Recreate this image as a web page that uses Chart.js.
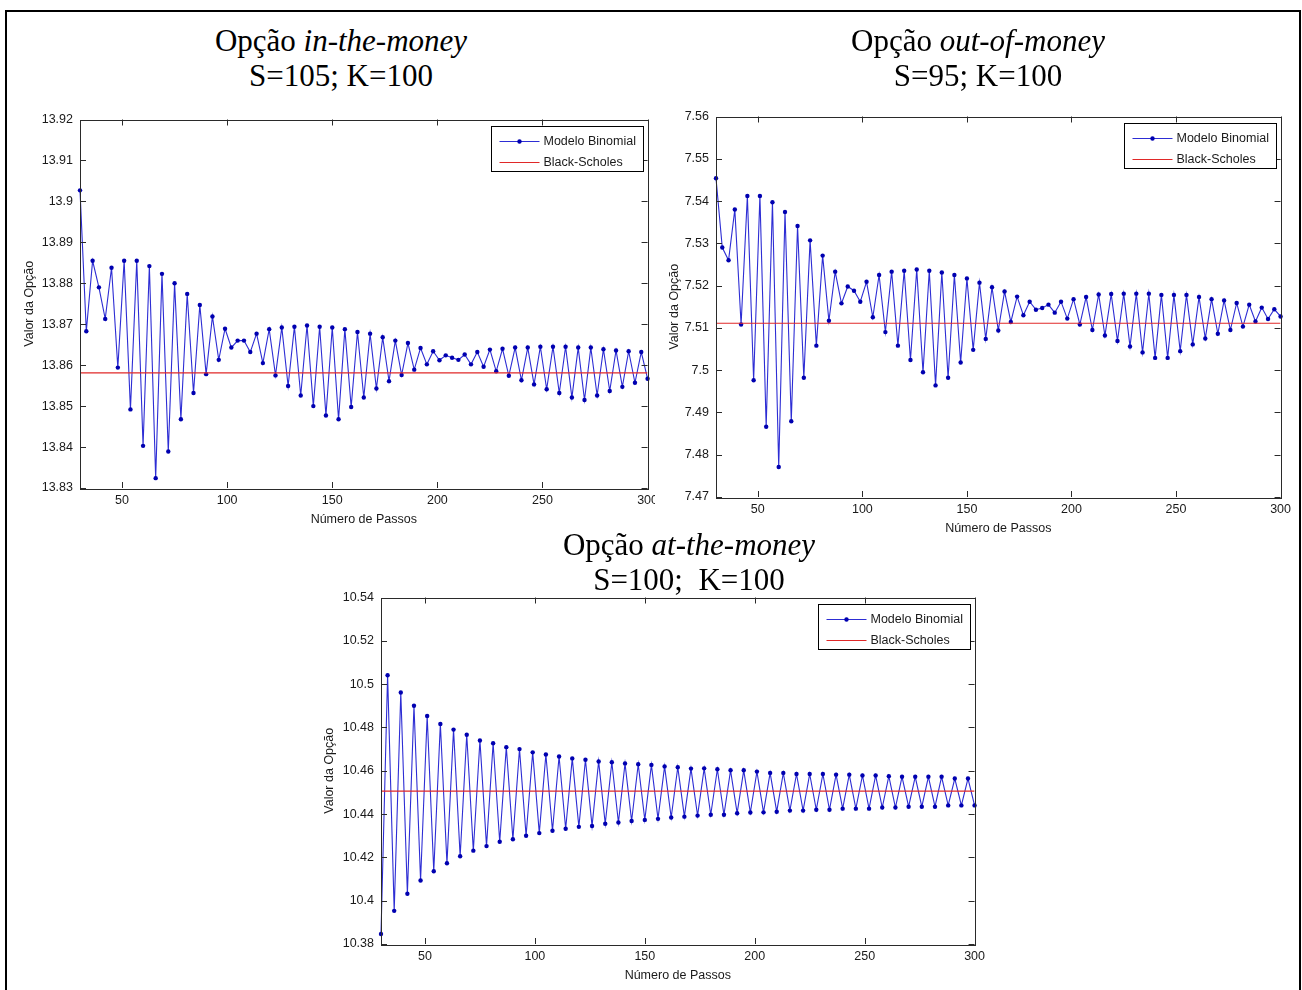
<!DOCTYPE html>
<html>
<head>
<meta charset="utf-8">
<script src="https://cdn.jsdelivr.net/npm/chart.js@4.4.1/dist/chart.umd.min.js"></script>
<style>
    html, body { margin: 0; padding: 0; background: #fff; }
    body { width: 1302px; height: 990px; position: relative; overflow: hidden; }
    .frame { position: absolute; left: 5px; top: 10px; width: 1296px; height: 990px; border: 2px solid #000; border-bottom: none; box-sizing: border-box; }
    .title { position: absolute; z-index: 3; width: 600px; text-align: center; font-family: 'Liberation Serif', 'Times New Roman', serif; font-size: 31px; line-height: 35px; color: #000; white-space: pre; }
    canvas { position: absolute; }
    #chartOtm { background: #fff; }
</style>
</head>
<body>
<div class="frame"></div>

<div class="title" style="left:41px; top:23px;">Opção <i>in-the-money</i><br>S=105; K=100</div>
<div class="title" style="left:678px; top:23px;">Opção <i>out-of-money</i><br>S=95; K=100</div>
<div class="title" style="left:389px; top:527px;">Opção <i>at-the-money</i><br>S=100;  K=100</div>

<canvas id="chartItm" width="645" height="425" style="left:18px; top:105px;"></canvas>
<canvas id="chartOtm" width="641" height="437" style="left:655px; top:102px;"></canvas>
<canvas id="chartAtm" width="672" height="403" style="left:318px; top:583px;"></canvas>

<script>
// number of steps of the binomial tree
const steps = [
    30, 33, 36, 39, 42, 45, 48, 51, 54, 57, 60, 63, 66, 69, 72, 75, 78, 81, 84, 87,
    90, 93, 96, 99, 102, 105, 108, 111, 114, 117, 120, 123, 126, 129, 132, 135, 138, 141, 144, 147,
    150, 153, 156, 159, 162, 165, 168, 171, 174, 177, 180, 183, 186, 189, 192, 195, 198, 201, 204, 207,
    210, 213, 216, 219, 222, 225, 228, 231, 234, 237, 240, 243, 246, 249, 252, 255, 258, 261, 264, 267,
    270, 273, 276, 279, 282, 285, 288, 291, 294, 297, 300,
];

// S=105; K=100
const itmBinomial = [
    13.9027, 13.8683, 13.8855, 13.8790, 13.8713, 13.8838, 13.8594, 13.8855, 13.8492, 13.8855,
    13.8403, 13.8842, 13.8324, 13.8823, 13.8389, 13.8800, 13.8468, 13.8774, 13.8532, 13.8747,
    13.8578, 13.8719, 13.8613, 13.8689, 13.8643, 13.8660, 13.8660, 13.8632, 13.8677, 13.8605,
    13.8688, 13.8575, 13.8692, 13.8549, 13.8694, 13.8526, 13.8697, 13.8500, 13.8694, 13.8477,
    13.8692, 13.8468, 13.8688, 13.8498, 13.8681, 13.8521, 13.8677, 13.8543, 13.8668, 13.8561,
    13.8660, 13.8576, 13.8654, 13.8589, 13.8642, 13.8602, 13.8634, 13.8612, 13.8624, 13.8618,
    13.8613, 13.8626, 13.8602, 13.8632, 13.8596, 13.8638, 13.8585, 13.8640, 13.8574, 13.8643,
    13.8563, 13.8643, 13.8553, 13.8645, 13.8541, 13.8645, 13.8532, 13.8645, 13.8521, 13.8643,
    13.8515, 13.8643, 13.8526, 13.8639, 13.8537, 13.8636, 13.8547, 13.8634, 13.8557, 13.8632,
    13.8567,
];
const itmBlackScholes = 13.8581;

// S=95; K=100
const otmBinomial = [
    7.5454, 7.5290, 7.5260, 7.5380, 7.5108, 7.5412, 7.4976, 7.5412, 7.4866, 7.5397,
    7.4771, 7.5374, 7.4879, 7.5341, 7.4982, 7.5307, 7.5058, 7.5271, 7.5117, 7.5233,
    7.5158, 7.5198, 7.5188, 7.5162, 7.5209, 7.5125, 7.5225, 7.5090, 7.5233, 7.5058,
    7.5235, 7.5024, 7.5238, 7.4995, 7.5235, 7.4964, 7.5231, 7.4982, 7.5225, 7.5018,
    7.5217, 7.5048, 7.5207, 7.5074, 7.5196, 7.5094, 7.5186, 7.5114, 7.5174, 7.5130,
    7.5162, 7.5143, 7.5147, 7.5155, 7.5136, 7.5162, 7.5122, 7.5168, 7.5108, 7.5173,
    7.5095, 7.5179, 7.5082, 7.5180, 7.5069, 7.5181, 7.5056, 7.5181, 7.5042, 7.5181,
    7.5029, 7.5178, 7.5029, 7.5178, 7.5045, 7.5178, 7.5061, 7.5173, 7.5075, 7.5168,
    7.5086, 7.5165, 7.5095, 7.5159, 7.5103, 7.5155, 7.5115, 7.5148, 7.5121, 7.5144,
    7.5127,
];
const otmBlackScholes = 7.5111;

// S=100; K=100
const atmBinomial = [
    10.3846, 10.5041, 10.3953, 10.4961, 10.4032, 10.4900, 10.4093, 10.4853, 10.4136, 10.4816,
    10.4173, 10.4790, 10.4205, 10.4766, 10.4231, 10.4740, 10.4252, 10.4727, 10.4272, 10.4709,
    10.4284, 10.4700, 10.4300, 10.4685, 10.4312, 10.4675, 10.4323, 10.4666, 10.4332, 10.4657,
    10.4341, 10.4651, 10.4345, 10.4643, 10.4355, 10.4639, 10.4361, 10.4634, 10.4368, 10.4630,
    10.4373, 10.4627, 10.4378, 10.4620, 10.4384, 10.4616, 10.4388, 10.4610, 10.4393, 10.4611,
    10.4397, 10.4607, 10.4397, 10.4602, 10.4404, 10.4602, 10.4407, 10.4596, 10.4408, 10.4590,
    10.4411, 10.4590, 10.4416, 10.4585, 10.4416, 10.4585, 10.4420, 10.4585, 10.4420, 10.4582,
    10.4425, 10.4582, 10.4425, 10.4578, 10.4425, 10.4578, 10.4430, 10.4575, 10.4430, 10.4572,
    10.4434, 10.4572, 10.4434, 10.4572, 10.4434, 10.4572, 10.4440, 10.4564, 10.4440, 10.4564,
    10.4440,
];
const atmBlackScholes = 10.4506;

// tick labels
const xTicks = [50, 100, 150, 200, 250, 300];
const itmYTicks = [13.83, 13.84, 13.85, 13.86, 13.87, 13.88, 13.89, 13.90, 13.91, 13.92];
const otmYTicks = [7.47, 7.48, 7.49, 7.50, 7.51, 7.52, 7.53, 7.54, 7.55, 7.56];
const atmYTicks = [10.38, 10.40, 10.42, 10.44, 10.46, 10.48, 10.50, 10.52, 10.54];

const LINE_BLUE = '#2d2dd4';
const MARKER_BLUE = '#0000b0';
const LINE_RED = '#e02828';
const AXIS_COLOR = '#2a2a2a';
const TEXT_COLOR = '#1a1a1a';
const SANS = "'Liberation Sans', Arial, sans-serif";
const FONT_SIZE = 12.5;

// MATLAB-like box: full frame, inward ticks, boxed legend in the top-right corner
const matlabAxes = {
    id: 'matlabAxes',
    afterDatasetsDraw(chart) {
        const { ctx, chartArea: a, scales: { x, y } } = chart;
        const tick = 6;
        ctx.save();
        ctx.strokeStyle = AXIS_COLOR;
        ctx.lineWidth = 1;
        ctx.strokeRect(Math.round(a.left) + 0.5, Math.round(a.top) + 0.5, Math.round(a.width), Math.round(a.height));
        ctx.beginPath();
        x.ticks.forEach((t) => {
            const px = Math.round(x.getPixelForValue(t.value)) + 0.5;
            ctx.moveTo(px, a.bottom); ctx.lineTo(px, a.bottom - tick);
            ctx.moveTo(px, a.top); ctx.lineTo(px, a.top + tick);
        });
        y.ticks.forEach((t) => {
            const py = Math.round(y.getPixelForValue(t.value)) + 0.5;
            ctx.moveTo(a.left, py); ctx.lineTo(a.left + tick, py);
            ctx.moveTo(a.right, py); ctx.lineTo(a.right - tick, py);
        });
        ctx.stroke();
        drawLegend(chart);
        ctx.restore();
    },
};

function drawLegend(chart) {
    const { ctx, chartArea: a } = chart;
    const sets = chart.data.datasets;
    ctx.font = `${FONT_SIZE}px ${SANS}`;
    const textW = Math.max(...sets.map((d) => ctx.measureText(d.label).width));
    const w = Math.round(52 + textW + 8);
    const h = 45;
    const x0 = Math.round(a.right - 5 - w) + 0.5;
    const y0 = Math.round(a.top + 6) + 0.5;
    ctx.fillStyle = '#fff';
    ctx.fillRect(x0, y0, w, h);
    ctx.strokeStyle = '#000';
    ctx.strokeRect(x0, y0, w, h);
    sets.forEach((d, i) => {
        const yy = Math.round(y0 + 14 + i * 21) + 0.5;
        ctx.strokeStyle = d.borderColor;
        ctx.lineWidth = 1;
        ctx.beginPath();
        ctx.moveTo(x0 + 8, yy);
        ctx.lineTo(x0 + 48, yy);
        ctx.stroke();
        if (d.pointRadius > 0) {
            ctx.fillStyle = d.pointBackgroundColor;
            ctx.beginPath();
            ctx.arc(x0 + 28, yy, d.pointRadius, 0, Math.PI * 2);
            ctx.fill();
        }
        ctx.fillStyle = TEXT_COLOR;
        ctx.textBaseline = 'middle';
        ctx.fillText(d.label, x0 + 52, yy);
    });
}

function axisFont() {
    return { family: SANS, size: FONT_SIZE };
}

function buildDatasets(binomial, blackScholes) {
    return [
        {
            label: 'Modelo Binomial',
            data: steps.map((s, i) => ({ x: s, y: binomial[i] })),
            borderColor: LINE_BLUE,
            borderWidth: 1.1,
            pointRadius: 2.2,
            pointBackgroundColor: MARKER_BLUE,
            pointBorderWidth: 0,
            tension: 0,
            clip: false,
        },
        {
            label: 'Black-Scholes',
            data: [
                { x: steps[0], y: blackScholes },
                { x: steps[steps.length - 1], y: blackScholes },
            ],
            borderColor: LINE_RED,
            borderWidth: 1.2,
            pointRadius: 0,
            order: -1,
        },
    ];
}

function renderOptionChart({ canvasId, binomial, blackScholes, yTicks, padding, yWidth }) {
    return new Chart(document.getElementById(canvasId), {
        type: 'line',
        data: { datasets: buildDatasets(binomial, blackScholes) },
        options: {
            responsive: false,
            animation: false,
            devicePixelRatio: 1,
            layout: { padding },
            plugins: {
                legend: { display: false },
                tooltip: { enabled: false },
            },
            scales: {
                x: {
                    type: 'linear',
                    min: steps[0],
                    max: steps[steps.length - 1],
                    afterBuildTicks: (s) => { s.ticks = xTicks.map((v) => ({ value: v })); },
                    afterFit: (s) => { s.height = 42; },
                    grid: { display: false, drawTicks: false },
                    border: { display: false },
                    ticks: { padding: 5, color: TEXT_COLOR, font: axisFont(), autoSkip: false, maxRotation: 0 },
                    title: { display: true, text: 'Número de Passos', color: TEXT_COLOR, font: axisFont(), padding: { top: 2, bottom: 3 } },
                },
                y: {
                    type: 'linear',
                    min: yTicks[0],
                    max: yTicks[yTicks.length - 1],
                    afterBuildTicks: (s) => { s.ticks = yTicks.map((v) => ({ value: v })); },
                    afterFit: (s) => { s.width = yWidth; },
                    grid: { display: false, drawTicks: false },
                    border: { display: false },
                    ticks: {
                        padding: 7,
                        color: TEXT_COLOR,
                        font: axisFont(),
                        autoSkip: false,
                        callback: (v) => String(Number(v.toFixed(2))),
                    },
                    title: { display: true, text: 'Valor da Opção', color: TEXT_COLOR, font: axisFont(), padding: { top: 4, bottom: 4 } },
                },
            },
        },
        plugins: [matlabAxes],
    });
}

renderOptionChart({
    canvasId: 'chartItm',
    binomial: itmBinomial,
    blackScholes: itmBlackScholes,
    yTicks: itmYTicks,
    padding: { top: 12, right: 12, bottom: 0, left: 0 },
    yWidth: 62,
});

renderOptionChart({
    canvasId: 'chartOtm',
    binomial: otmBinomial,
    blackScholes: otmBlackScholes,
    yTicks: otmYTicks,
    padding: { top: 12, right: 14, bottom: 0, left: 8 },
    yWidth: 53,
});

renderOptionChart({
    canvasId: 'chartAtm',
    binomial: atmBinomial,
    blackScholes: atmBlackScholes,
    yTicks: atmYTicks,
    padding: { top: 12, right: 15, bottom: 0, left: 0 },
    yWidth: 63,
});
</script>
</body>
</html>
